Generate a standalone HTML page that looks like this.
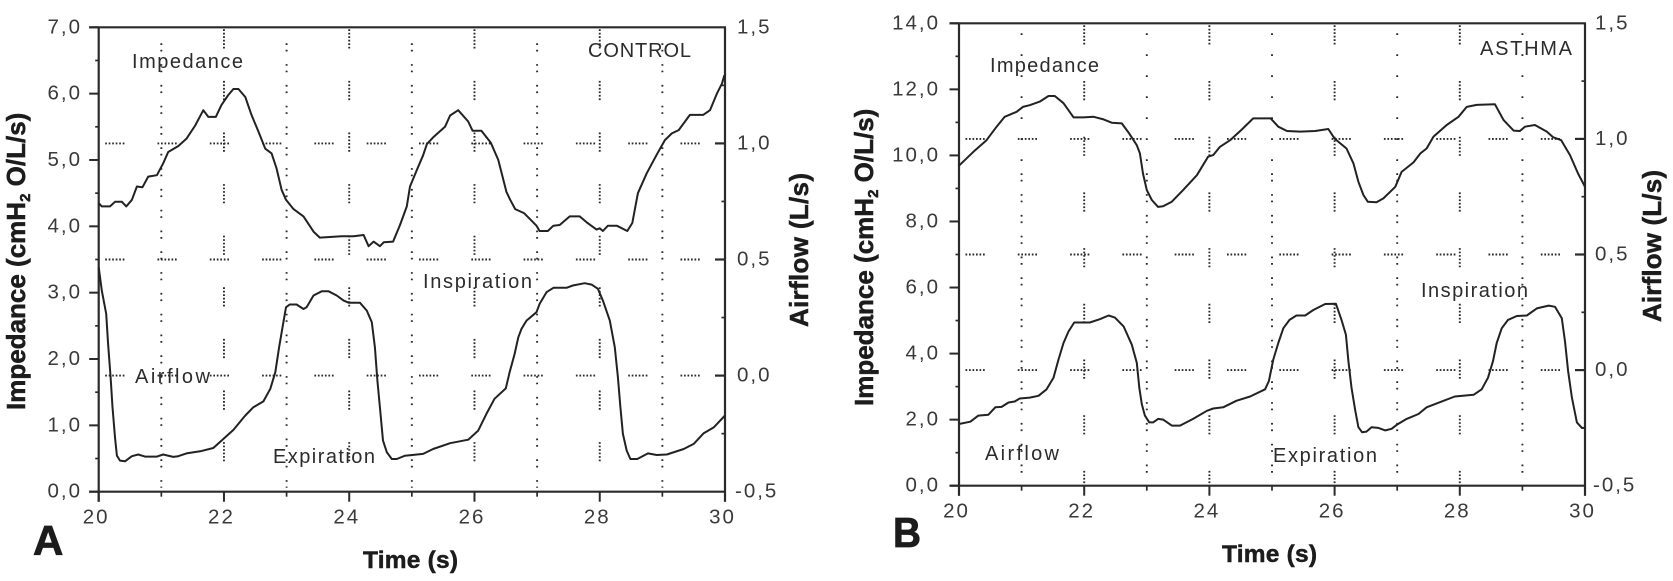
<!DOCTYPE html>
<html lang="en">
<head>
<meta charset="utf-8">
<title>Impedance and airflow: control and asthma</title>
<style>
  html, body { margin: 0; padding: 0; background: #fff; }
  body { width: 1673px; height: 581px; overflow: hidden; }
  svg { display: block; filter: blur(0.35px); }
  text { font-family: "Liberation Sans", Arial, sans-serif; }
  .tick { font-size: 20.5px; letter-spacing: 2px; fill: #3a3a3a; }
  .note { font-size: 20px; fill: #2c2c2c; }
  .title { font-size: 26px; font-weight: bold; fill: #1c1c1c; stroke: #1c1c1c; stroke-width: 0.5px; }
  .time { font-size: 24.5px; font-weight: bold; fill: #1c1c1c; stroke: #1c1c1c; stroke-width: 0.5px; }
  .letter { font-size: 42px; font-weight: bold; fill: #1c1c1c; stroke: #1c1c1c; stroke-width: 0.8px; }
</style>
</head>
<body>
<svg id="chart" xmlns="http://www.w3.org/2000/svg" width="1673" height="581" viewBox="0 0 1673 581">
  <rect x="0" y="0" width="1673" height="581" fill="#fff"/>

  <g id="panel-a"></g>
  <g id="panel-b"></g>

  <text class="title" transform="translate(25,410) rotate(-90)">Impedance (cmH<tspan font-size="15" dy="5">2</tspan><tspan dy="-5"> O/L/s)</tspan></text>
  <text class="title" transform="translate(808,327) rotate(-90)" textLength="154">Airflow (L/s)</text>
  <text class="time" x="363" y="568" textLength="95">Time (s)</text>
  <text class="letter" x="33" y="555">A</text>
  <text class="note" x="132" y="68" textLength="111">Impedance</text>
  <text class="note" x="588" y="57" textLength="103">CONTROL</text>
  <text class="note" x="423" y="288" textLength="109">Inspiration</text>
  <text class="note" x="135" y="383" textLength="75">Airflow</text>
  <text class="note" x="273" y="463" textLength="102">Expiration</text>

  <text class="title" transform="translate(873,406) rotate(-90)">Impedance (cmH<tspan font-size="15" dy="5">2</tspan><tspan dy="-5"> O/L/s)</tspan></text>
  <text class="title" transform="translate(1661,322) rotate(-90)" textLength="152">Airflow (L/s)</text>
  <text class="time" x="1222" y="562" textLength="95">Time (s)</text>
  <text class="letter" x="893" y="547" textLength="28" lengthAdjust="spacingAndGlyphs">B</text>
  <text class="note" x="990" y="72" textLength="109">Impedance</text>
  <text class="note" x="1480" y="55" textLength="92">ASTHMA</text>
  <text class="note" x="1421" y="297" textLength="107">Inspiration</text>
  <text class="note" x="985" y="460" textLength="74">Airflow</text>
  <text class="note" x="1273" y="462" textLength="104">Expiration</text>
</svg>

<script>
// Shared tick values
const timeTicks = [20, 22, 24, 26, 28, 30];
const timeTickLabels = ["20", "22", "24", "26", "28", "30"];
const timeMinorTicks = [21, 23, 25, 27, 29];
const rightTicks = [-0.5, 0, 0.5, 1, 1.5];
const rightTickLabels = ["-0,5", "0,0", "0,5", "1,0", "1,5"];
const rightMinorTicks = [-0.25, 0.25, 0.75, 1.25];

// Control panel
const leftTicksA = [0, 1, 2, 3, 4, 5, 6, 7];
const leftTickLabelsA = ["0,0", "1,0", "2,0", "3,0", "4,0", "5,0", "6,0", "7,0"];
const leftMinorTicksA = [0.5, 1.5, 2.5, 3.5, 4.5, 5.5, 6.5];

const impedanceTimeA = [20,20.05,20.18,20.26,20.37,20.44,20.53,20.61,20.7,20.79,20.93,21.03,21.11,21.27,21.4,21.54,21.67,21.75,21.87,21.96,22.07,22.15,22.23,22.34,22.44,22.55,22.66,22.76,22.84,22.92,22.99,23.11,23.27,23.43,23.53,23.88,24.07,24.23,24.31,24.39,24.49,24.55,24.7,24.81,24.92,24.97,25.08,25.18,25.24,25.34,25.53,25.61,25.74,25.9,25.97,26.11,26.26,26.38,26.51,26.57,26.65,26.79,26.99,27.04,27.17,27.26,27.36,27.52,27.68,27.79,27.95,28,28.05,28.13,28.27,28.44,28.52,28.61,28.75,28.91,29.04,29.15,29.26,29.44,29.65,29.76,29.87,29.95,29.99];
const impedanceA = [4.35,4.3,4.3,4.37,4.37,4.3,4.4,4.6,4.59,4.75,4.77,4.95,5.12,5.21,5.32,5.52,5.75,5.65,5.65,5.83,5.98,6.07,6.07,5.95,5.68,5.43,5.17,5.1,4.87,4.55,4.4,4.26,4.15,3.92,3.83,3.85,3.85,3.87,3.7,3.77,3.7,3.76,3.77,4.02,4.3,4.6,4.85,5.07,5.24,5.34,5.5,5.67,5.75,5.58,5.44,5.44,5.26,5,4.52,4.4,4.26,4.2,4.01,3.93,3.93,4.01,4.02,4.15,4.15,4.06,3.95,3.97,3.93,4.01,4.01,3.93,4.05,4.5,4.8,5.08,5.3,5.4,5.45,5.68,5.68,5.75,6,6.15,6.28];

const airflowTimeA = [20,20.05,20.12,20.15,20.19,20.22,20.26,20.29,20.34,20.42,20.53,20.63,20.74,20.93,21.03,21.19,21.27,21.4,21.62,21.83,21.99,22.15,22.34,22.47,22.63,22.74,22.82,22.88,22.94,22.99,23.05,23.16,23.27,23.32,23.43,23.56,23.67,23.8,23.91,23.99,24.17,24.28,24.36,24.41,24.45,24.49,24.54,24.6,24.68,24.76,24.89,25.18,25.34,25.61,25.9,26.06,26.19,26.32,26.5,26.56,26.64,26.7,26.75,26.83,26.99,27.04,27.15,27.26,27.47,27.57,27.76,27.87,27.97,28.05,28.16,28.24,28.29,28.33,28.37,28.43,28.49,28.6,28.77,28.91,29.07,29.34,29.5,29.66,29.82,30];
const airflowA = [0.467,0.366,0.266,0.136,-0.007,-0.136,-0.266,-0.345,-0.366,-0.369,-0.347,-0.34,-0.349,-0.349,-0.34,-0.35,-0.347,-0.335,-0.326,-0.312,-0.273,-0.234,-0.172,-0.136,-0.111,-0.057,0.014,0.122,0.215,0.294,0.306,0.306,0.287,0.294,0.345,0.363,0.363,0.345,0.323,0.314,0.314,0.28,0.23,0.122,-0.022,-0.136,-0.28,-0.33,-0.359,-0.359,-0.345,-0.337,-0.316,-0.291,-0.276,-0.237,-0.165,-0.1,-0.055,0.014,0.093,0.165,0.201,0.237,0.273,0.309,0.359,0.378,0.378,0.388,0.398,0.392,0.374,0.323,0.237,0.122,-0.007,-0.136,-0.251,-0.323,-0.359,-0.359,-0.335,-0.342,-0.34,-0.316,-0.294,-0.248,-0.223,-0.172];

// Asthma panel
const leftTicksB = [0, 2, 4, 6, 8, 10, 12, 14];
const leftTickLabelsB = ["0,0", "2,0", "4,0", "6,0", "8,0", "10,0", "12,0", "14,0"];
const leftMinorTicksB = [1, 3, 5, 7, 9, 11, 13];

const impedanceTimeB = [20,20.23,20.44,20.6,20.73,20.92,21.02,21.13,21.29,21.43,21.53,21.67,21.83,21.99,22.15,22.31,22.44,22.6,22.71,22.84,22.89,22.94,23,23.08,23.18,23.26,23.4,23.58,23.8,23.98,24.06,24.17,24.33,24.51,24.7,24.98,25.1,25.24,25.45,25.69,25.9,26,26.19,26.3,26.38,26.46,26.53,26.67,26.78,26.97,27.07,27.26,27.37,27.47,27.58,27.79,27.98,28.11,28.27,28.56,28.7,28.86,28.96,29.04,29.2,29.39,29.49,29.62,29.76,29.89,30];
const impedanceB = [9.69,10.11,10.46,10.87,11.17,11.32,11.47,11.52,11.63,11.8,11.8,11.58,11.15,11.15,11.17,11.09,10.99,10.97,10.69,10.31,10.06,9.45,8.95,8.65,8.44,8.46,8.6,8.95,9.4,9.96,10.01,10.26,10.46,10.77,11.12,11.12,10.87,10.74,10.72,10.74,10.8,10.51,10.21,9.76,9.2,8.8,8.6,8.58,8.7,9.05,9.5,9.79,10.06,10.21,10.57,10.92,11.17,11.47,11.53,11.55,11.07,10.75,10.74,10.87,10.92,10.72,10.55,10.46,10.01,9.45,9.05];

const airflowTimeB = [20,20.18,20.31,20.47,20.58,20.68,20.79,20.89,20.97,21.13,21.27,21.4,21.51,21.59,21.67,21.75,21.84,22.09,22.25,22.39,22.49,22.63,22.76,22.84,22.88,22.92,22.97,23.04,23.1,23.18,23.26,23.4,23.53,23.74,23.96,24.06,24.22,24.43,24.65,24.89,24.95,25.02,25.1,25.18,25.28,25.39,25.53,25.66,25.85,26.02,26.11,26.18,26.22,26.27,26.33,26.38,26.44,26.51,26.59,26.7,26.81,26.91,26.99,27.15,27.34,27.47,27.74,27.92,28.22,28.35,28.45,28.53,28.59,28.67,28.77,28.91,29.07,29.23,29.42,29.52,29.63,29.68,29.73,29.79,29.87,29.95,30];
const airflowB = [-0.233,-0.223,-0.197,-0.193,-0.161,-0.159,-0.14,-0.136,-0.123,-0.119,-0.111,-0.083,-0.033,0.046,0.117,0.167,0.206,0.206,0.22,0.236,0.227,0.189,0.11,0.031,-0.076,-0.147,-0.197,-0.226,-0.226,-0.211,-0.214,-0.24,-0.24,-0.211,-0.176,-0.166,-0.161,-0.133,-0.114,-0.083,-0.047,0.046,0.117,0.181,0.217,0.236,0.236,0.26,0.286,0.287,0.217,0.153,0.039,-0.076,-0.176,-0.247,-0.269,-0.266,-0.247,-0.25,-0.261,-0.254,-0.237,-0.211,-0.19,-0.161,-0.133,-0.114,-0.107,-0.083,-0.033,0.039,0.117,0.181,0.217,0.234,0.236,0.267,0.279,0.274,0.224,0.124,-0.004,-0.119,-0.226,-0.25,-0.25];

const SVG_NS = "http://www.w3.org/2000/svg";

function svgEl(tag, parent) {
  const el = document.createElementNS(SVG_NS, tag);
  parent.appendChild(el);
  return el;
}

function line(parent, x1, y1, x2, y2, width, name, dash) {
  const el = svgEl("line", parent);
  el.setAttribute("x1", x1);
  el.setAttribute("y1", y1);
  el.setAttribute("x2", x2);
  el.setAttribute("y2", y2);
  el.setAttribute("stroke", "#2a2a2a");
  el.setAttribute("stroke-width", width);
  if (dash) el.setAttribute("stroke-dasharray", dash);
  
  
  return el;
}

function label(parent, x, y, str, anchor, name) {
  const el = svgEl("text", parent);
  el.setAttribute("x", x);
  el.setAttribute("y", y);
  el.setAttribute("class", "tick");
  el.setAttribute("text-anchor", anchor);
  el.textContent = str;
  
  
  return el;
}

function dots(count, period) {
  const parts = [];
  for (let i = 0; i < count - 1; i++) parts.push("1.7 1.8");
  const used = (count - 1) * 3.5 + 1.7;
  parts.push("1.7 " + (period - used));
  return parts.join(" ");
}

function drawPanel(cfg) {
  const g = document.getElementById(cfg.id);
  const xAxis = t => cfg.x0 + (t - 20) / 10 * (cfg.x1 - cfg.x0);
  const yLeft = v => cfg.y0 - v / cfg.leftMax * (cfg.y0 - cfg.y1);
  const yRight = v => cfg.y0 - (v + 0.5) / 2 * (cfg.y0 - cfg.y1);

  // Dotted grid
  [0, 0.5, 1].forEach(v => {
    line(g, cfg.x0 + 6.5, yRight(v), cfg.x1 - 12, yRight(v), 1.9, "horizontal-gridline", dots(6, 52.3));
  });
  timeTicks.slice(1, -1).forEach(t => {
    const top = cfg.y1 + cfg.evenStart;
    const gl = line(g, xAxis(t), top, xAxis(t), cfg.y0 - 2, 1.9, "even-second-gridline", dots(6, cfg.evenPeriod));
    gl.setAttribute("stroke-dashoffset", cfg.evenOffset);
  });
  timeMinorTicks.forEach(t => {
    const split = cfg.y1 + cfg.oddSplit;
    if (cfg.oddSplit > cfg.oddStart) {
      line(g, xAxis(t), cfg.y1 + cfg.oddStart, xAxis(t), split, 1.9, "odd-second-gridline-upper", "1.7 19.3");
    }
    const lower = Math.max(split, cfg.y1 + cfg.oddStart);
    line(g, xAxis(t), lower, xAxis(t), cfg.y0 - 4, 1.9, "odd-second-gridline-lower", "1.7 4.8 1.7 12.6");
  });

  // Frame
  line(g, cfg.x0 - 9.5, cfg.y1, cfg.x1 + 1, cfg.y1, 2.2, "top-axis-line");
  line(g, cfg.x0 - 9.5, cfg.y0, cfg.x1 + 1, cfg.y0, 2.2, "x-axis-line");
  line(g, cfg.x0, cfg.y1, cfg.x0, cfg.y0 + 10, 2.2, "left-axis-line");
  line(g, cfg.x1, cfg.y1, cfg.x1, cfg.y0 + 10, 2.2, "right-axis-line");

  // Left axis
  cfg.leftTicks.forEach((v, i) => {
    line(g, cfg.x0 - 9.5, yLeft(v), cfg.x0, yLeft(v), 2, "left-major-tick");
    label(g, cfg.leftLabelX, yLeft(v) + 6, cfg.leftLabels[i], "end", "left-tick-label");
  });
  cfg.leftMinor.forEach(v => {
    line(g, cfg.x0 - 3.5, yLeft(v), cfg.x0, yLeft(v), 1.7, "left-minor-tick");
  });

  // Right axis
  rightTicks.forEach((v, i) => {
    if (v > -0.5 && v < 1.5) {
      line(g, cfg.x1 - 10, yRight(v), cfg.x1, yRight(v), 2.2, "right-major-tick");
    }
    const x = v < 0 ? cfg.rightLabelX - 2 : cfg.rightLabelX;
    label(g, x, yRight(v) + 6, rightTickLabels[i], "start", "right-tick-label");
  });
  rightMinorTicks.forEach(v => {
    line(g, cfg.x1 - 3.5, yRight(v), cfg.x1, yRight(v), 1.7, "right-minor-tick");
  });

  // Time axis
  timeTicks.forEach((t, i) => {
    line(g, xAxis(t), cfg.y0, xAxis(t), cfg.y0 + 10, 2, "x-major-tick");
    label(g, xAxis(t) - 2.5, cfg.y0 + 32, timeTickLabels[i], "middle", "x-tick-label");
  });
  timeMinorTicks.forEach(t => {
    line(g, xAxis(t), cfg.y0, xAxis(t), cfg.y0 + 5, 1.7, "x-minor-tick");
  });

  // Series
  const drawSeries = (times, values, scale, name) => {
    const p = svgEl("polyline", g);
    p.setAttribute("points", times.map((t, i) => xAxis(t).toFixed(1) + "," + scale(values[i]).toFixed(1)).join(" "));
    p.setAttribute("fill", "none");
    p.setAttribute("stroke", "#222");
    p.setAttribute("stroke-width", "2");
    p.setAttribute("stroke-linejoin", "round");
    
    
  };
  drawSeries(cfg.impTime, cfg.imp, yLeft, "impedance-line");
  drawSeries(cfg.airTime, cfg.air, yRight, "airflow-line");
}

drawPanel({
  id: "panel-a", x0: 98.7, x1: 725, y0: 491.7, y1: 27.3, leftMax: 7,
  leftLabelX: 82, rightLabelX: 737,
  evenStart: 2, evenPeriod: 51.6, evenOffset: 0, oddStart: 16, oddSplit: 0,
  leftTicks: leftTicksA, leftLabels: leftTickLabelsA, leftMinor: leftMinorTicksA,
  impTime: impedanceTimeA, imp: impedanceA, airTime: airflowTimeA, air: airflowA
});

drawPanel({
  id: "panel-b", x0: 959, x1: 1585, y0: 485.7, y1: 23.3, leftMax: 14,
  leftLabelX: 940, rightLabelX: 1595,
  evenStart: 2, evenPeriod: 55.7, evenOffset: 0, oddStart: 10, oddSplit: 150,
  leftTicks: leftTicksB, leftLabels: leftTickLabelsB, leftMinor: leftMinorTicksB,
  impTime: impedanceTimeB, imp: impedanceB, airTime: airflowTimeB, air: airflowB
});
</script>
</body>
</html>
